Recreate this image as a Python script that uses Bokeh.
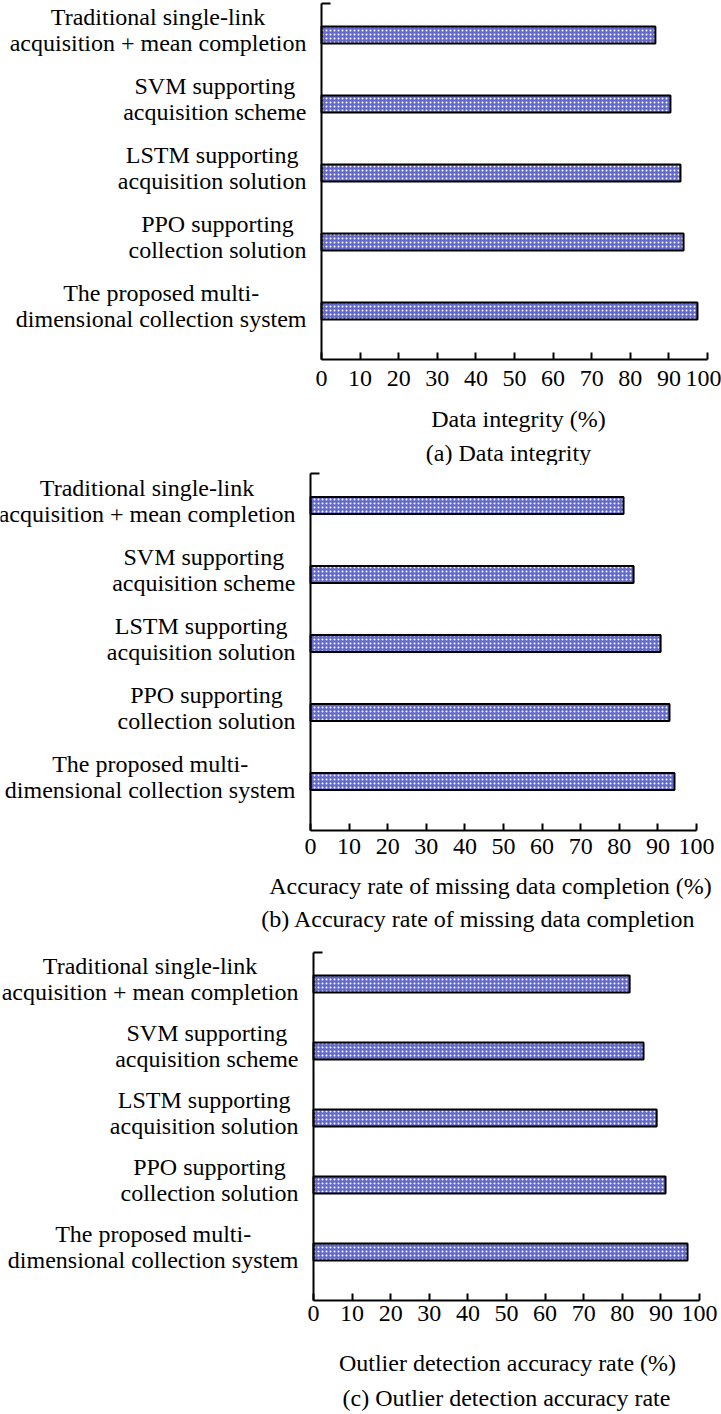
from bokeh.plotting import figure
from bokeh.models import ColumnDataSource, Range1d, LinearAxis, FixedTicker
from bokeh.layouts import column
from bokeh.embed import file_html
from bokeh.resources import INLINE
from bokeh.core.properties import value

# ---- data -------------------------------------------------------------
methods = [
    "Traditional single-link\nacquisition + mean completion",
    "SVM supporting\nacquisition scheme",
    "LSTM supporting\nacquisition solution",
    "PPO supporting\ncollection solution",
    "The proposed multi-\ndimensional collection system",
]
data_integrity = [86.5, 90.4, 93.0, 93.8, 97.4]
completion_accuracy = [81.1, 83.7, 90.7, 93.0, 94.3]
outlier_accuracy = [81.9, 85.5, 88.9, 91.2, 96.9]
x_ticks = [0, 10, 20, 30, 40, 50, 60, 70, 80, 90, 100]

axis_titles = [
    "Data integrity (%)",
    "Accuracy rate of missing data completion (%)",
    "Outlier detection accuracy rate (%)",
]
captions = [
    "(a) Data integrity",
    "(b) Accuracy rate of missing data completion",
    "(c) Outlier detection accuracy rate",
]

# ---- styling ----------------------------------------------------------
W = 721
FONT = "Liberation Serif"
FS = 24
BAR_BLUE = "#6369c9"
PX_PER_UNIT = 3.86  # horizontal pixels per percent

# Times-compatible advance widths (1/1000 em), used to centre label lines
TIMES_W = {
    " ": 250, "+": 564, "-": 333,
    "a": 444, "b": 500, "c": 444, "d": 500, "e": 444, "f": 333, "g": 500,
    "h": 500, "i": 278, "j": 278, "k": 500, "l": 278, "m": 778, "n": 500,
    "o": 500, "p": 500, "q": 500, "r": 333, "s": 389, "t": 278, "u": 500,
    "v": 500, "w": 722, "x": 500, "y": 500, "z": 444,
    "T": 611, "S": 556, "V": 722, "M": 889, "L": 611, "P": 556, "O": 722,
}


def text_width(s, size):
    return sum(TIMES_W.get(c, 500) for c in s) / 1000.0 * size


def panel(values, axis_title, caption, height, origin_px, top_bar_px, step_px,
          axis_top_px, xaxis_px, standoff, title_px, caption_px,
          title_cx, caption_cx):
    def ydata(px):
        return -(px - top_bar_px) / step_px

    def xdata(px):
        return (px - origin_px) / PX_PER_UNIT

    p = figure(width=W, height=height,
               x_range=Range1d(xdata(0), xdata(W)),
               y_range=Range1d(ydata(height), ydata(0)),
               x_axis_type=None, y_axis_type=None,
               output_backend="svg", toolbar_location=None,
               min_border=0, outline_line_color=None,
               background_fill_color="white", border_fill_color="white")

    ypos = [-i for i in range(len(methods))]
    label_x = []
    for m in methods:
        block = max(text_width(line, FS) for line in m.split("\n"))
        label_x.append(xdata(origin_px - 15 - block / 2.0))
    src = ColumnDataSource(dict(
        y=ypos, v=values, label=methods, lx=label_x,
        ly=[y + 5.0 / step_px for y in ypos],
    ))

    p.hbar(y="y", left=0, right="v", height=17.0 / step_px, source=src,
           fill_color=BAR_BLUE, line_color="black", line_width=2,
           hatch_pattern="dot", hatch_color="white", hatch_scale=4,
           hatch_weight=1.5)

    p.text(x="lx", y="ly", text="label", source=src,
           text_align="center", text_baseline="middle",
           text_font=value(FONT), text_font_size=f"{FS}px",
           text_line_height=1.0, text_color="black")

    xaxis = LinearAxis(fixed_location=ydata(xaxis_px), bounds=(0, 100),
                       ticker=FixedTicker(ticks=x_ticks),
                       major_tick_in=7, major_tick_out=0,
                       minor_tick_in=0, minor_tick_out=0,
                       axis_line_width=2, major_tick_line_width=2,
                       axis_line_color="black", major_tick_line_color="black",
                       major_label_standoff=standoff,
                       major_label_text_font=FONT,
                       major_label_text_font_size=f"{FS}px",
                       major_label_text_color="black")
    p.add_layout(xaxis, "below")

    top_val = ydata(axis_top_px)
    yaxis = LinearAxis(fixed_location=0, bounds=(ydata(xaxis_px), top_val),
                       ticker=FixedTicker(ticks=[]),
                       major_tick_in=0, major_tick_out=0,
                       minor_tick_in=0, minor_tick_out=0,
                       axis_line_width=2, axis_line_color="black")
    p.add_layout(yaxis, "left")
    # short cap stroke at the top end of the value axis
    p.segment(x0=[0], y0=[top_val], x1=[9 / PX_PER_UNIT], y1=[top_val],
              line_color="black", line_width=2)

    p.text(x=[xdata(title_cx)], y=[ydata(title_px)], text=[axis_title],
           text_align="center", text_baseline="middle",
           text_font=value(FONT), text_font_size=f"{FS}px", text_color="black")
    p.text(x=[xdata(caption_cx)], y=[ydata(caption_px)], text=[caption],
           text_align="center", text_baseline="middle",
           text_font=value(FONT), text_font_size=f"{FS}px", text_color="black")
    return p


pa = panel(data_integrity, axis_titles[0], captions[0], 465, 321, 34.5, 69,
           3, 359, 11, 418, 452, 518, 508)
pb = panel(completion_accuracy, axis_titles[1], captions[1], 480, 310, 40, 69,
           8, 365, 8, 420, 453, 490, 478)
pc = panel(outlier_accuracy, axis_titles[2], captions[2], 469, 313, 38.5, 67,
           7, 355, 5, 417, 452, 507, 506)

layout = column(pa, pb, pc, spacing=0)
open("out.html", "w").write(file_html(layout, INLINE))
